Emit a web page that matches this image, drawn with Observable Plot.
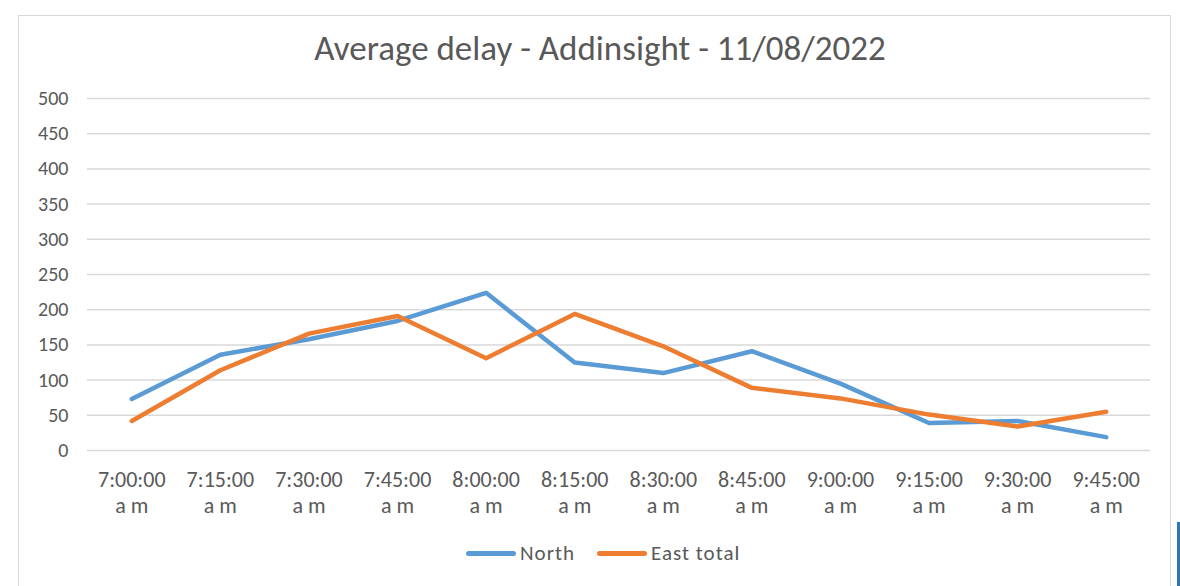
<!DOCTYPE html>
<html>
<head>
<meta charset="utf-8">
<script src="https://cdn.jsdelivr.net/npm/d3@7"></script>
<script src="https://cdn.jsdelivr.net/npm/@observablehq/plot@0.6"></script>
<style>
  html, body { margin: 0; padding: 0; background: #fff; }
  body { width: 1180px; height: 586px; position: relative; overflow: hidden;
         font-family: Carlito, Lato, sans-serif; color: #595959; }
  #frame { position: absolute; left: 18px; top: 15px; width: 1153px; height: 600px;
           border: 1px solid #d9d9d9; box-sizing: border-box; }
  #title { position: absolute; left: 0; width: 1200px; top: 27px; text-align: center;
           font-size: 35px; color: #595959; }
  #chart { position: absolute; left: 0; top: 0; }
  #legend { position: absolute; top: 540px; left: 466px; display: flex; align-items: center;
            font-size: 21px; color: #595959; letter-spacing: 1px; }
  .sw { display: inline-block; width: 50px; height: 5px; border-radius: 3px; margin-right: 4px; }
  #edge { position: absolute; left: 1177px; top: 522px; width: 3px; height: 64px; background: #2e75b6; }
</style>
</head>
<body>
<div id="frame"></div>
<div id="title">Average delay - Addinsight - 11/08/2022</div>
<div id="chart"></div>
<div id="legend"></div>
<div id="edge"></div>
<script>
const times = ["7:00:00 am","7:15:00 am","7:30:00 am","7:45:00 am","8:00:00 am","8:15:00 am",
               "8:30:00 am","8:45:00 am","9:00:00 am","9:15:00 am","9:30:00 am","9:45:00 am"];
const north = [73, 136, 158, 184, 224, 125, 110, 141, 95, 39, 42, 19];
const eastTotal = [42, 114, 166, 191, 131, 194, 148, 89, 74, 51, 34, 55];
const seriesNames = ["North", "East total"];
const seriesColors = ["#5b9bd5", "#ed7d31"];
const yTicks = [0, 50, 100, 150, 200, 250, 300, 350, 400, 450, 500];

const rows = [];
times.forEach((t, i) => {
  rows.push({time: t, value: north[i], series: seriesNames[0]});
  rows.push({time: t, value: eastTotal[i], series: seriesNames[1]});
});

const plot = Plot.plot({
  width: 1180,
  height: 530,
  marginLeft: 87,
  marginRight: 30,
  marginTop: 98,
  marginBottom: 80,
  style: {fontFamily: "Carlito, Lato, sans-serif", fontSize: "20px", background: "transparent", color: "#595959"},
  x: {type: "point", domain: times, padding: 0.5, round: false},
  y: {domain: [0, 500]},
  color: {domain: seriesNames, range: seriesColors},
  marks: [
    Plot.gridY(yTicks, {stroke: "#d9d9d9", strokeOpacity: 1, strokeWidth: 1.5}),
    Plot.axisY(yTicks, {tickSize: 0, tickPadding: 19, fontSize: 20, fill: "#595959", label: null}),
    Plot.axisX({tickSize: 0, tickPadding: 18, fontSize: 22, fill: "#595959", label: null,
                lineHeight: 1.18, letterSpacing: "0.2px",
                tickFormat: d => d.replace(" ", "\n").replace("am", "a m")}),
    Plot.line(rows, {x: "time", y: "value", z: "series", stroke: "series",
                     strokeWidth: 4.5, strokeLinecap: "round", strokeLinejoin: "round"})
  ]
});
document.getElementById("chart").appendChild(plot);

const legend = document.getElementById("legend");
seriesNames.forEach((n, i) => {
  const item = document.createElement("span");
  item.style.display = "inline-flex";
  item.style.alignItems = "center";
  item.style.marginRight = i === 0 ? "22px" : "0";
  item.innerHTML = `<span class="sw" style="background:${seriesColors[i]}"></span>${n}`;
  legend.appendChild(item);
});
</script>
</body>
</html>
